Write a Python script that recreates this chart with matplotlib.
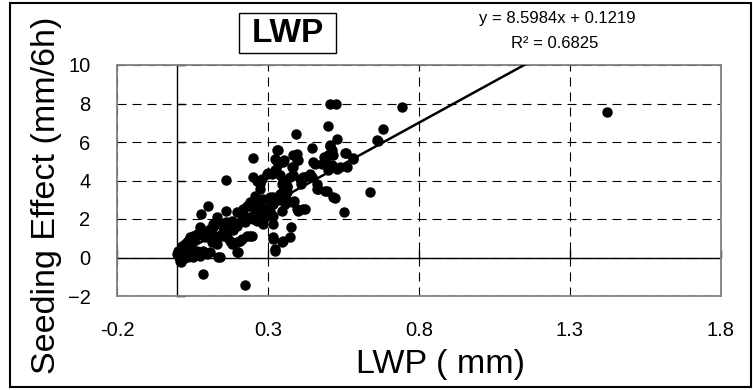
"""Seeding effect vs LWP scatter with linear trendline (Excel-style chart)."""
import numpy as np
import matplotlib
matplotlib.use("Agg")
import matplotlib.pyplot as plt
from matplotlib.patches import Rectangle

plt.rcParams["font.family"] = ["Liberation Sans", "DejaVu Sans"]
plt.rcParams["lines.scale_dashes"] = False

# data
lwp = [
    0.506, 0.527, 0.743, 1.422, 0.393, 0.498, 0.680, 0.661, 0.528, 0.447,
    0.506, 0.559, 0.583, 0.249, 0.332, 0.326, 0.354, 0.395, 0.401, 0.379,
    0.456, 0.486, 0.495, 0.500, 0.511, 0.539, 0.561, 0.301, 0.326, 0.340,
    0.373, 0.249, 0.160, 0.417, 0.439, 0.274, 0.346, 0.362, 0.349, 0.467,
    0.495, 0.522, 0.638, 0.553, 0.386, 0.401, 0.423, 0.307, 0.318, 0.274,
    0.263, 0.357, 0.346, 0.102, 0.078, 0.160, 0.230, 0.196, 0.218, 0.130,
    0.141, 0.119, 0.180, 0.196, 0.174, 0.246, 0.263, 0.285, 0.290, 0.075,
    0.064, 0.042, 0.031, 0.020, 0.097, 0.108, 0.091, 0.125, 0.114, 0.130,
    0.141, 0.163, 0.180, 0.196, 0.207, 0.230, 0.246, 0.318, 0.318, 0.323,
    0.346, 0.373, 0.376, -0.002, 0.009, 0.020, 0.036, 0.053, 0.075, 0.097,
    0.086, 0.224, 0.003, 0.014, 0.031, 0.218, 0.235, 0.257, 0.263, 0.240,
    0.213, 0.191, 0.108, 0.086, 0.075, 0.053, 0.036, 0.025, 0.009, 0.152,
    0.174, 0.196, 0.213, 0.240, 0.202, 0.086, 0.064, 0.047, 0.108, 0.135,
    0.506, 0.511, 0.500, 0.489, 0.329, 0.323, 0.334, 0.351, 0.384, 0.395,
    0.384, 0.450, 0.478, 0.511, 0.296, 0.312, 0.323, 0.351, 0.384, 0.406,
    0.423, 0.445, 0.462, 0.263, 0.279, 0.462, 0.489, 0.517, 0.274, 0.257,
    0.240, 0.263, 0.285, 0.307, 0.318, 0.340, 0.362, 0.351, 0.362, 0.307,
    0.318, 0.257, 0.274, 0.251, 0.379, 0.395, 0.417, 0.351, 0.318, 0.323,
    0.666, 0.517, 0.528, 0.583, 0.555, 0.058, 0.118, 0.150, 0.185, 0.225,
    0.268, 0.295, 0.335, 0.360, 0.410, 0.005, 0.012, 0.045, 0.160, 0.282,
]
effect = [
    8.00, 8.00, 7.81, 7.58, 6.39, 6.84, 6.65, 6.08, 6.13, 5.70,
    5.77, 5.45, 5.16, 5.16, 5.56, 5.04, 5.04, 5.39, 5.07, 4.69,
    4.87, 5.21, 4.87, 4.52, 4.69, 4.69, 4.69, 4.38, 4.56, 4.26,
    4.17, 4.17, 4.03, 4.17, 4.35, 3.83, 3.83, 3.65, 3.39, 3.57,
    3.48, 3.10, 3.39, 2.34, 2.96, 2.44, 2.53, 3.13, 2.79, 2.79,
    2.44, 2.79, 2.44, 2.67, 2.27, 2.39, 2.69, 2.35, 2.27, 2.09,
    1.75, 1.75, 1.92, 1.66, 1.57, 2.09, 1.92, 1.75, 2.09, 1.57,
    1.23, 1.05, 0.79, 0.36, 1.40, 1.23, 1.05, 1.14, 0.79, 0.71,
    0.02, 1.05, 0.71, 0.28, 0.88, 1.14, 1.14, 1.75, 0.97, 0.33,
    0.79, 1.05, 1.57, 0.19, -0.16, -0.07, 0.02, 0.02, 0.10, 0.19,
    -0.85, -1.42, 0.36, 0.62, 0.62, 2.53, 2.70, 2.79, 2.27, 2.09,
    2.01, 1.75, 1.49, 1.40, 1.23, 1.14, 0.88, 0.71, 0.36, 1.14,
    0.88, 0.79, 0.97, 1.14, 0.28, 0.36, 0.36, 0.33, 0.28, 0.05,
    5.82, 5.56, 5.30, 5.04, 5.56, 5.13, 4.87, 4.95, 5.30, 5.04,
    4.69, 4.95, 4.87, 4.78, 4.35, 4.35, 4.52, 4.00, 4.26, 4.09,
    4.17, 4.17, 3.83, 4.00, 4.09, 3.57, 3.48, 3.13, 3.57, 3.22,
    2.87, 2.87, 3.05, 2.96, 3.13, 3.31, 3.39, 3.48, 3.74, 2.44,
    2.18, 2.35, 2.09, 2.01, 2.87, 2.53, 2.53, 0.88, 1.05, 0.45,
    6.04, 5.30, 4.61, 5.13, 5.44, 0.95, 1.60, 1.30, 1.45, 1.85,
    2.55, 2.40, 3.00, 3.05, 3.80, 0.05, -0.25, 0.50, 1.85, 2.55,
]
slope, intercept, r2 = 8.5984, 0.1219, 0.6825

x_ticks = [-0.2, 0.3, 0.8, 1.3, 1.8]
y_ticks = [-2, 0, 2, 4, 6, 8, 10]

W, H = 753, 390
fig = plt.figure(figsize=(W / 100, H / 100), dpi=100)
ax = fig.add_axes([117 / W, 1 - 296 / H, 603.7 / W, 231 / H])

ax.set_xlim(-0.2, 1.8)
ax.set_ylim(-2, 10)
ax.set_xticks(x_ticks)
ax.set_yticks(y_ticks)
ax.set_xticklabels([f"{v:g}" for v in x_ticks])
ax.tick_params(length=0, labelsize=14.5)
ax.tick_params(axis="y", pad=19)
ax.tick_params(axis="x", pad=18)
for s in ax.spines.values():
    s.set_color("#808080")
    s.set_linewidth(1.3)

ax.grid(True, color="black", linewidth=0.8, linestyle=(0, (6.5, 4.3)))
ax.set_axisbelow(True)
ax.axhline(0, color="black", linewidth=1.0, zorder=1.5)

# axes crossing at x=0 / y=0 with inward ticks
sec_y = ax.secondary_yaxis(0.2 / 2.0)
sec_y.set_yticks(y_ticks)
sec_y.tick_params(direction="in", length=6, width=1, labelleft=False)
sec_y.spines["left"].set_linewidth(1.0)
sec_x = ax.secondary_xaxis(2 / 12)
sec_x.set_xticks(x_ticks)
sec_x.tick_params(direction="in", length=6, width=1, labelbottom=False)
sec_x.spines["bottom"].set_visible(False)

ax.plot(lwp, effect, "o", color="black", markersize=6.5, zorder=3)

# trendline over the data range, clipped at the top of the plot
xs = np.array([min(lwp), max(lwp)])
ax.plot(xs, slope * xs + intercept, color="black", linewidth=1.8, zorder=4)

fig.text(440 / W, 1 - 364 / H, "LWP ( mm)", fontsize=24.5,
         ha="center", va="center")
fig.text(47 / W, 1 - 195 / H, "Seeding Effect (mm/6h)", fontsize=24.5,
         rotation=90, ha="center", va="center")

# title box
fig.patches.append(Rectangle((239 / W, 1 - 53 / H), 97 / W, 40 / H,
                             transform=fig.transFigure, fill=False,
                             edgecolor="black", linewidth=1.0))
fig.text(287.5 / W, 1 - 33 / H, "LWP", fontsize=24, fontweight="bold",
         ha="center", va="center")

fig.text(557 / W, 1 - 19 / H, f"y = {slope}x + {intercept}", fontsize=12,
         ha="center", va="center")
fig.text(555 / W, 1 - 43 / H, f"R\u00b2 = {r2}", fontsize=12,
         ha="center", va="center")

# outer chart frame
fig.patches.append(Rectangle((10 / W, 3 / H), 741 / W, 384 / H,
                             transform=fig.transFigure, fill=False,
                             edgecolor="black", linewidth=1.5))

fig.savefig("out.png", dpi=100)
